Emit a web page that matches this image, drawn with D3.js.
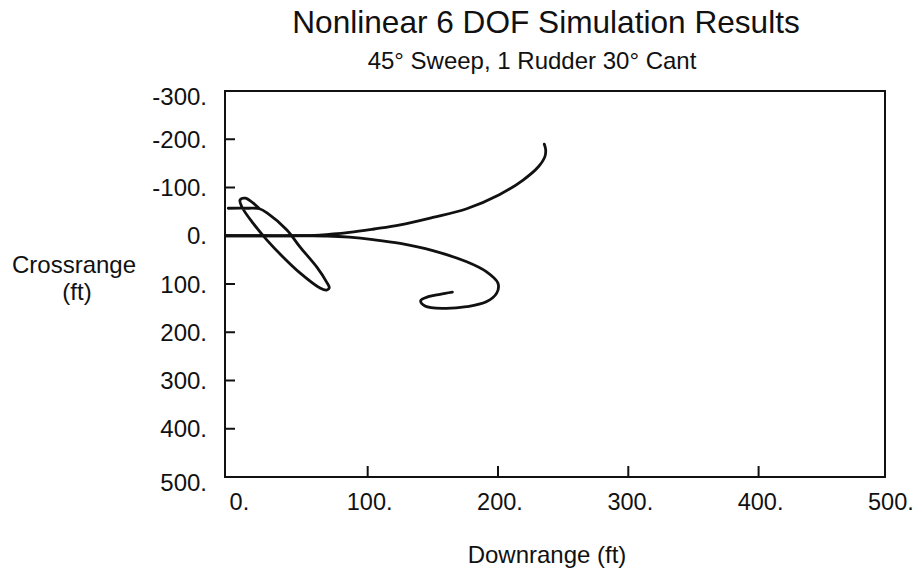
<!DOCTYPE html>
<html>
<head>
<meta charset="utf-8">
<title>Nonlinear 6 DOF Simulation Results</title>
<script src="https://d3js.org/d3.v7.min.js"></script>
<style>
    body {
        margin: 0;
        background: #fff;
        font-family: "Liberation Sans", Arial, Helvetica, sans-serif;
    }
    text {
        fill: #111;
    }
    .frame {
        fill: none;
        stroke: #111;
        stroke-width: 2px;
    }
    .tick {
        stroke: #111;
        stroke-width: 2px;
    }
    .traj {
        fill: none;
        stroke: #111;
        stroke-width: 2.8px;
        stroke-linejoin: round;
        stroke-linecap: round;
    }
</style>
</head>
<body>
<svg id="chart"></svg>
<script>
    // axis ticks (ft)
    const xTicks = [0, 100, 200, 300, 400, 500];
    const yTicks = [-300, -200, -100, 0, 100, 200, 300, 400, 500];

    // trajectories: [downrange, crossrange] in ft
    const climbingTurn = [
        [-9, 0], [20, 0], [42, 0], [63, -1.5], [86, -7], [105, -14],
        [125, -22.5], [150, -38], [176, -56], [201, -85], [219, -115],
        [231, -143], [236, -164], [236.6, -178], [235.5, -190]
    ];
    const hookTurn = [
        [-9, 0], [30, 0], [55, 0], [69, 0.5], [86, 3], [104, 8],
        [125, 16], [150, 31], [176, 54], [191, 74.5], [200, 98.5],
        [199, 119], [191, 137], [176, 147], [158, 150.5], [144, 145.5],
        [140.7, 134.5], [146.5, 126.3], [155.5, 121.3], [165, 117]
    ];
    const loopRun = [
        [-7, -57], [8, -57], [17, -56], [23, -47], [38, -12], [48, 23],
        [61, 65], [68.5, 96], [70.5, 108], [68.5, 112.5], [63.4, 108.3],
        [48, 77], [35, 44], [22.7, 9], [12, -26], [3.5, -59.6],
        [2, -74], [6, -78], [12, -68], [17, -56]
    ];

    const width = 921,
        height = 569;

    const svg = d3.select('#chart')
        .attr('width', width)
        .attr('height', height);

    const x = d3.scaleLinear()
        .domain([-9.5, 497])
        .range([225, 885]);

    const y = d3.scaleLinear()
        .domain([-300, 500])
        .range([91, 477]);

    const line = d3.line()
        .x(d => x(d[0]))
        .y(d => y(d[1]))
        .curve(d3.curveCatmullRom.alpha(0.5));

    // titles
    svg.append('text')
        .attr('x', 546).attr('y', 33)
        .attr('text-anchor', 'middle')
        .style('font-size', '31.6px')
        .text('Nonlinear 6 DOF Simulation Results');

    svg.append('text')
        .attr('x', 532).attr('y', 69)
        .attr('text-anchor', 'middle')
        .style('font-size', '24px')
        .text('45° Sweep, 1 Rudder 30° Cant');

    // plot frame
    svg.append('rect')
        .attr('class', 'frame')
        .attr('x', x.range()[0])
        .attr('y', y.range()[0])
        .attr('width', x.range()[1] - x.range()[0])
        .attr('height', y.range()[1] - y.range()[0]);

    // inner ticks (ends sit on the frame)
    const innerX = xTicks.filter(v => v > x.domain()[0] + 20 && v < x.domain()[1] - 20);
    const innerY = yTicks.filter(v => v > y.domain()[0] && v < y.domain()[1]);

    svg.selectAll('line.xtick')
        .data(innerX)
        .enter().append('line')
        .attr('class', 'tick')
        .attr('x1', d => x(d)).attr('x2', d => x(d))
        .attr('y1', y.range()[1]).attr('y2', y.range()[1] - 11);

    svg.selectAll('line.ytick')
        .data(innerY)
        .enter().append('line')
        .attr('class', 'tick')
        .attr('x1', x.range()[0]).attr('x2', x.range()[0] + 10)
        .attr('y1', d => y(d)).attr('y2', d => y(d));

    // tick labels
    svg.selectAll('text.xlab')
        .data(xTicks)
        .enter().append('text')
        .attr('class', 'xlab')
        .attr('x', d => x(d) + 2)
        .attr('y', 510)
        .attr('text-anchor', 'middle')
        .style('font-size', '23.5px')
        .text(d => d + '.');

    // the end labels sit a bit lower than their ticks in the original
    svg.selectAll('text.ylab')
        .data(yTicks)
        .enter().append('text')
        .attr('class', 'ylab')
        .attr('x', 207)
        .attr('y', d => y(d) + (d === yTicks[0] || d === yTicks[yTicks.length - 1] ? 5 : 0))
        .attr('dy', '0.36em')
        .attr('text-anchor', 'end')
        .style('font-size', '24px')
        .text(d => d + '.');

    // axis names
    svg.append('text')
        .attr('x', 547).attr('y', 563)
        .attr('text-anchor', 'middle')
        .style('font-size', '24px')
        .text('Downrange (ft)');

    const yName = svg.append('text')
        .attr('text-anchor', 'middle')
        .style('font-size', '24px');
    yName.append('tspan').attr('x', 74).attr('y', 273).text('Crossrange');
    yName.append('tspan').attr('x', 77).attr('y', 300).text('(ft)');

    // trajectories
    svg.selectAll('path.traj')
        .data([climbingTurn, hookTurn, loopRun])
        .enter().append('path')
        .attr('class', 'traj')
        .attr('d', line);
</script>
</body>
</html>
